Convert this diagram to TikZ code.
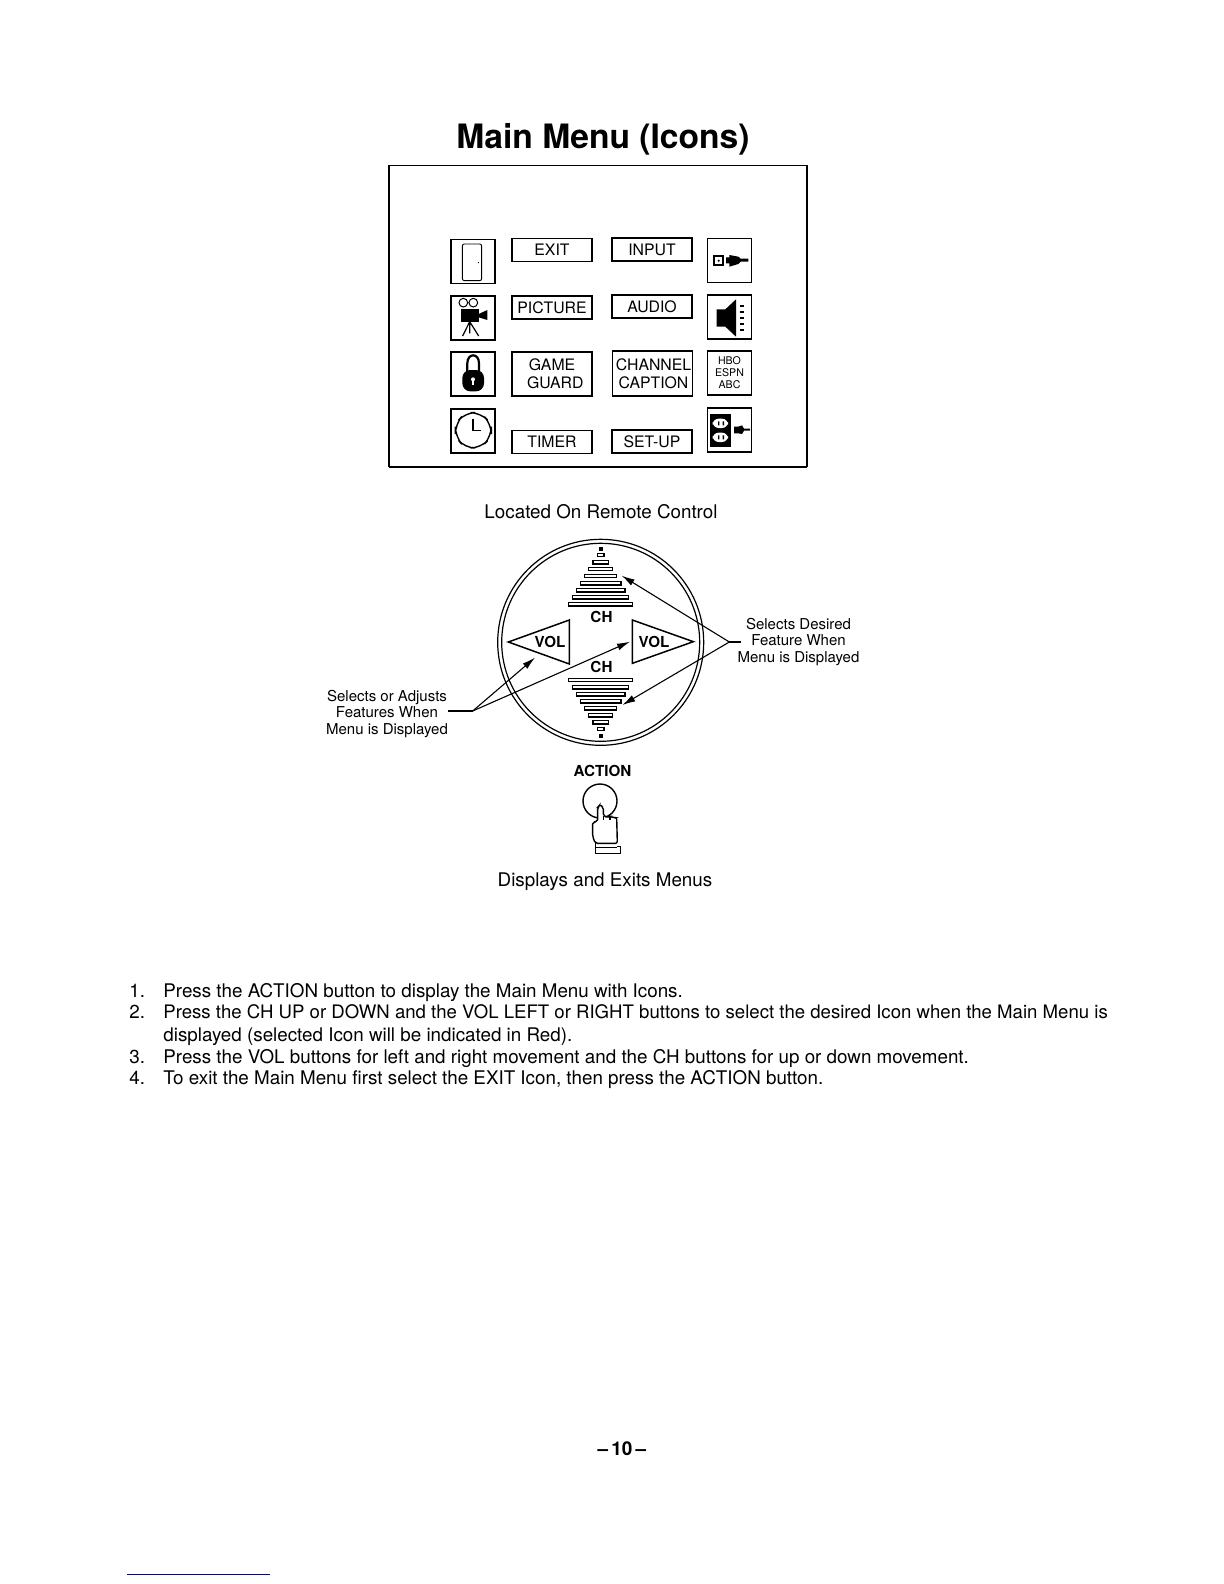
\documentclass[tikz,border=0pt]{standalone}
\usepackage{fontspec}
\setmainfont{TeX Gyre Heros}
\usetikzlibrary{arrows.meta}
\begin{document}
\begin{tikzpicture}[x=0.5pt,y=-0.5pt,
  txt/.style={inner sep=0pt,align=center,font=\fontsize{9.4}{11}\selectfont},
  lab/.style={inner sep=0pt,align=center,font=\fontsize{7.5}{8.2}\selectfont},
  line/.style={inner sep=0pt,anchor=base west,font=\fontsize{9.4}{11}\selectfont},
  menubox/.style={draw,line width=0.85pt,minimum width=40pt,minimum height=11.5pt,inner sep=0pt,align=center,font=\fontsize{7.9}{9}\selectfont},
  tallbox/.style={menubox,minimum height=22.3pt},
  iconbox/.style={draw,line width=0.85pt,minimum width=22pt,minimum height=22pt,inner sep=0pt},
  bar/.style={draw,line width=0.7pt,fill=white},
  ptr/.style={line width=0.55pt,-{Latex[length=6.5pt,width=3.5pt]}},
  wire/.style={line width=0.55pt},
  keylab/.style={inner sep=0pt,font=\bfseries\fontsize{7.6}{9}\selectfont},
  ink/.style={fill=black,draw=none}]
\useasboundingbox (0,0) rectangle (1224,1584);
\fill[white] (0,0) rectangle (1224,1584);
\node[inner sep=0pt,font=\bfseries\fontsize{16.8}{18}\selectfont] (title) at (603,139) {Main Menu (Icons)};
\draw[line width=0.45pt] (389,165) -- (807,165);
\draw[line width=0.6pt] (389,165) -- (389,467) (807,165) -- (807,467);
\draw[line width=1pt] (389,467) -- (807,467);
% menu labels
\node[menubox] (exit) at (552,250) {\raisebox{-0.4pt}{EXIT}};
\node[menubox] (input) at (652,249.5) {\raisebox{-0.4pt}{INPUT}};
\node[menubox] (picture) at (552,307.5) {\raisebox{-0.4pt}{PICTURE}};
\node[menubox] (audio) at (652,306.5) {\raisebox{-0.4pt}{AUDIO}};
\node[tallbox] (game) at (552,374) {GAME\hspace{3.3pt}\\\hspace{3.3pt}GUARD};
\node[tallbox] (chan) at (652.5,373.5) {\hspace{1pt}CHANNEL\\\hspace{1pt}CAPTION};
\node[menubox] (timer) at (552,442) {\raisebox{-0.4pt}{TIMER}};
\node[menubox] (setup) at (652,441.5) {\raisebox{-0.4pt}{SET-UP}};
% icon boxes
\node[iconbox] (door) at (473,261.5) {};
\node[iconbox] (camera) at (473,318) {};
\node[iconbox] (lock) at (473,374) {};
\node[iconbox] (clock) at (473,431) {};
\node[iconbox] (plug) at (729.5,260.5) {};
\node[iconbox] (speaker) at (729.5,317) {};
\node[iconbox,align=center,font=\fontsize{5.3}{6}\selectfont] (nets) at (729.5,373) {HBO\\ESPN\\ABC};
\node[iconbox] (outlet) at (729.5,430) {};
% icon drawings, in crop coordinates
\begin{scope}[shift={(430,220)},xscale=1/3,yscale=1/3]
 % door
 \draw[line width=0.45pt,rounded corners=1pt] (97,72) rectangle (155,182);
 \fill (145,128) circle (2);
 % camera
 \draw[line width=0.5pt] (100,248) circle (13) (130,248) circle (13);
 \path[ink] (92,268) rectangle (146,305);
 \path[ink] (146,282) -- (172,270) -- (172,300) -- (146,292) -- cycle;
 \draw[line width=0.6pt] (119,305) -- (98,348) (119,305) -- (119,340) (119,305) -- (146,348);
 % lock
 \draw[line width=1.1pt] (112,455) -- (112,430) .. controls (112,398) and (147,398) .. (147,430) -- (147,455);
 \path[ink,rounded corners=4pt] (97,450) rectangle (162,514);
 \fill[white] (129,478) circle (6);
 \fill[white] (126,480) rectangle (132,496);
 % clock
 \draw[line width=0.7pt,rounded corners=5pt] (105,578) -- (152,578) -- (184,612) -- (184,650) -- (152,684) -- (105,684) -- (76,650) -- (76,612) -- cycle;
 \draw[line width=0.7pt] (129,598) -- (129,632) -- (152,632);
 % plug
 \draw[line width=0.9pt] (852,108) rectangle (880,136);
 \fill (866,122) circle (3.5);
 \path[ink] (888,112) -- (898,112) -- (898,105) -- (925,110) -- (932,116) -- (955,116) -- (955,125) -- (932,125) -- (925,132) -- (898,140) -- (898,130) -- (888,130) -- cycle;
 % speaker
 \path[ink] (860,268) -- (886,268) -- (918,238) -- (918,350) -- (886,320) -- (860,320) -- cycle;
 \foreach \y in {256,274,292,308,326} \fill (930,\y) rectangle (942,\y+6);
 % outlet
 \path[ink] (840,582) rectangle (903,680);
 \fill[white,rounded corners=3pt] (848,596) rectangle (894,624);
 \fill[white,rounded corners=3pt] (848,638) rectangle (894,666);
 \fill (864,604) rectangle (868,616) (878,604) rectangle (882,616) (864,646) rectangle (868,658) (878,646) rectangle (882,658);
 \path[ink] (912,620) -- (924,620) -- (936,616) -- (942,626) -- (960,626) -- (960,632) -- (942,632) -- (936,642) -- (924,640) -- (912,640) -- cycle;
\end{scope}
\node[txt] (located) at (601,512) {Located On Remote Control};
% remote
\node[draw,circle,line width=0.6pt,minimum size=103pt,inner sep=0pt] (outer) at (600.7,642.3) {};
\node[draw,circle,line width=0.6pt,minimum size=99pt,inner sep=0pt] (inner) at (600.7,642.3) {};
\begin{scope}[shift={(440,525)},xscale=1/3,yscale=1/3]
 \foreach \y/\w in {90/10,112/23,132/36,153/48,175/61,196/73,217/84,238/96}
   \draw[bar] (482-\w,\y-5) rectangle (482+\w,\y+5);
 \foreach \y/\w in {465/96,487/84,508/73,529/61,550/48,571/36,592/23,612/10}
   \draw[bar] (482-\w,\y-5) rectangle (482+\w,\y+5);
 \fill (476,66) rectangle (488,78);
 \fill (477,626) rectangle (488,638);
 \draw[line width=0.75pt] (205,351) -- (388,285) -- (388,417) -- cycle;
 \draw[line width=0.75pt] (577,285) -- (760,350) -- (577,415) -- cycle;
 \coordinate (apexR) at (868,351);
 \coordinate (tailR) at (902,351);
 \coordinate (chUp) at (545,152);
 \coordinate (chDn) at (547,540);
 \coordinate (apexL) at (98,558);
 \coordinate (tailL) at (25,558);
 \coordinate (volL) at (285,398);
 \coordinate (volR) at (570,350);
\end{scope}
\draw[wire] (tailR) -- (apexR);
\draw[ptr] (apexR) -- (chUp);
\draw[ptr] (apexR) -- (chDn);
\draw[wire] (tailL) -- (apexL);
\draw[ptr] (apexL) -- (volL);
\draw[ptr] (apexL) -- (volR);
\node[keylab] (chA) at (601.5,617) {CH};
\node[keylab] (chB) at (601.5,667) {CH};
\node[keylab] (volA) at (550,642) {VOL};
\node[keylab] (volB) at (654,641.5) {VOL};
\node[lab] (leftlab) at (387,714) {Selects or Adjusts\\Features When\\Menu is Displayed};
\node[lab] (rightlab) at (798.5,642) {Selects Desired\\Feature When\\Menu is Displayed};
\node[keylab] (action) at (602.5,771) {ACTION};
% action button
\node[draw,circle,line width=0.7pt,minimum size=17pt,inner sep=0pt] (btn) at (600,801) {};
\begin{scope}[shift={(550,760)},xscale=1/3,yscale=1/3]
 \draw[line width=0.7pt,fill=white,rounded corners=1pt] (143,185) -- (143,142) -- (150,134) -- (160,142) -- (160,168) -- (172,172) -- (180,168) -- (190,174) -- (200,172) -- (202,250) -- (136,250) -- (128,230) -- (128,186) -- cycle;
 \draw[line width=0.7pt] (160,168) -- (160,180) (180,168) -- (180,180);
 \draw[line width=0.7pt] (136,250) -- (136,280) -- (212,280) -- (212,260) -- (202,260) (136,262) -- (200,262);
\end{scope}
\node[txt] (displays) at (605,882) {Displays and Exits Menus};
% list
\node[line] (n1) at (129,997) {1.};
\node[line] (n2) at (129,1018) {2.};
\node[line] (n3) at (129,1063) {3.};
\node[line] (n4) at (129,1084) {4.};
\node[line] (l1) at (163,997) {Press the ACTION button to display the Main Menu with Icons.};
\node[line,font=\fontsize{9.3}{11}\selectfont] (l2) at (163,1018) {Press the CH UP or DOWN and the VOL LEFT or RIGHT buttons to select the desired Icon when the Main Menu is};
\node[line] (l2b) at (163,1041) {displayed (selected Icon will be indicated in Red).};
\node[line] (l3) at (163,1063) {Press the VOL buttons for left and right movement and the CH buttons for up or down movement.};
\node[line] (l4) at (163,1084) {To exit the Main Menu first select the EXIT Icon, then press the ACTION button.};
\node[inner sep=0pt,font=\bfseries\fontsize{9.5}{11}\selectfont] (page) at (622,1449) {--\,10\,--};
\draw[line width=0.5pt,blue!75!black] (127,1574) -- (270,1574);
\end{tikzpicture}
\end{document}
